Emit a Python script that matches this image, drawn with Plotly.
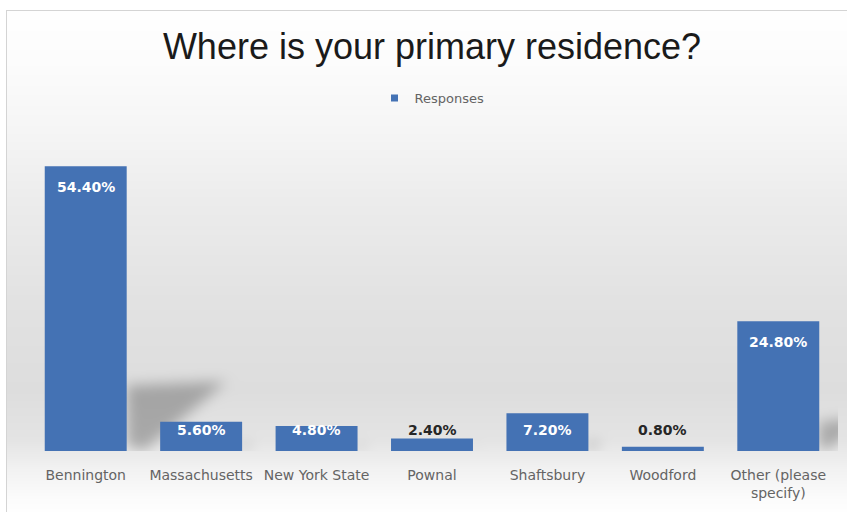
import base64
import struct
import zlib

import numpy as np
import plotly.graph_objects as go

# ---- data -------------------------------------------------------------
categories = [
    "Bennington",
    "Massachusetts",
    "New York State",
    "Pownal",
    "Shaftsbury",
    "Woodford",
    "Other (please<br>specify)",
]
responses = [54.4, 5.6, 4.8, 2.4, 7.2, 0.8, 24.8]
series_name = "Responses"
chart_title = "Where is your primary residence?"

# ---- geometry / style ---------------------------------------------------
W, H = 847, 512
M_L, M_R, M_T, M_B = 28, 11, 137, 61
Y_MAX = 60
BAR_FRAC = 0.71
BAR_COLOR = "#4472b4"
LABEL_DROP = 21          # px from bar top to label centre
TEXT_GRAY = "#646464"

plot_w = W - M_L - M_R
plot_h = H - M_T - M_B
px_per_unit = plot_h / Y_MAX
slot = plot_w / len(categories)
base_y = M_T + plot_h


# ---- background: soft vertical gradient, frame and cast shadows ----------
def gray_profile():
    ys = [0, 60, 130, 200, 300, 390, 440, 470, 500, 512]
    gs = [255, 252, 245, 236, 226, 221, 228, 242, 252, 254]
    return np.interp(np.arange(H), ys, gs)


def polygon_mask(pts):
    yy, xx = np.mgrid[0:H, 0:W].astype(float) + 0.5
    inside = np.zeros((H, W), bool)
    n = len(pts)
    for i in range(n):
        x1, y1 = pts[i]
        x2, y2 = pts[(i + 1) % n]
        cond = (y1 > yy) != (y2 > yy)
        xint = (x2 - x1) * (yy - y1) / (y2 - y1 + 1e-12) + x1
        inside ^= cond & (xx < xint)
    return inside.astype(float)


def box_blur(a, r):
    k = 2 * r + 1
    for axis in (0, 1):
        pad = [(0, 0), (0, 0)]
        pad[axis] = (r + 1, r)
        p = np.pad(a, pad, mode="edge")
        c = np.cumsum(p, axis=axis)
        if axis == 0:
            a = (c[k:] - c[:-k]) / k
        else:
            a = (c[:, k:] - c[:, :-k]) / k
    return a


def shadow_layer():
    acc = np.zeros((H, W))
    for i, v in enumerate(responses):
        h = v * px_per_unit
        xr = M_L + slot * (i + 0.5) + slot * BAR_FRAC / 2
        pts = [
            (xr, base_y - 0.02 * h),
            (xr, base_y - 0.23 * h),
            (xr + 0.35 * h, base_y - 0.245 * h),
            (xr + 0.06 * h, base_y),
        ]
        acc = np.maximum(acc, polygon_mask(pts))
    for _ in range(3):
        acc = box_blur(acc, 6)
    # shadows live on the floor of the plot area only
    acc[int(base_y):, :] = 0
    acc[:, int(M_L + plot_w + 2):] = 0
    return acc


bg = np.tile(gray_profile()[:, None], (1, W))
bg *= 1 - 0.26 * shadow_layer()
bg[:10, :] = 255
bg[:, :6] = 255
bg[10, 6:] = 212
bg[10:, 6] = 212
bg = np.clip(np.round(bg), 0, 255).astype(np.uint8)


def png_data_uri(gray):
    h, w = gray.shape
    raw = b"".join(b"\x00" + gray[r].tobytes() for r in range(h))

    def chunk(tag, data):
        return (struct.pack(">I", len(data)) + tag + data
                + struct.pack(">I", zlib.crc32(tag + data) & 0xFFFFFFFF))

    png = (b"\x89PNG\r\n\x1a\n"
           + chunk(b"IHDR", struct.pack(">IIBBBBB", w, h, 8, 0, 0, 0, 0))
           + chunk(b"IDAT", zlib.compress(raw, 9))
           + chunk(b"IEND", b""))
    return "data:image/png;base64," + base64.b64encode(png).decode()


# ---- figure --------------------------------------------------------------
fig = go.Figure()
fig.add_trace(go.Bar(
    x=categories,
    y=responses,
    width=BAR_FRAC,
    marker=dict(color=BAR_COLOR, line=dict(width=0)),
    showlegend=False,
    hovertemplate="%{x}: %{y:.2f}%<extra></extra>",
))
# legend entry with a small square swatch
fig.add_trace(go.Scatter(
    x=[None], y=[None], mode="markers", name=series_name,
    marker=dict(symbol="square", size=7, color=BAR_COLOR),
))

annotations = []
for cat, v in zip(categories, responses):
    bar_px = v * px_per_unit
    centre_px = max(bar_px - LABEL_DROP, LABEL_DROP)
    inside = centre_px < bar_px - 2
    annotations.append(dict(
        x=cat, y=centre_px / px_per_unit, xref="x", yref="y",
        text=f"<b>{v:.2f}%</b>", showarrow=False, yanchor="middle",
        font=dict(family="DejaVu Sans", size=14,
                  color="white" if inside else "#262626"),
    ))

fig.update_layout(
    width=W,
    height=H,
    margin=dict(l=M_L, r=M_R, t=M_T, b=M_B, pad=0),
    paper_bgcolor="white",
    plot_bgcolor="rgba(0,0,0,0)",
    title=dict(
        text=chart_title, x=0.5, xref="paper", xanchor="center",
        y=1 - 46 / H, yref="container", yanchor="middle",
        font=dict(family="Liberation Sans, Arial", size=36, color="#1a1a1a"),
    ),
    legend=dict(
        orientation="h", x=0.5, xanchor="center",
        y=1 + (M_T - 98) / plot_h, yanchor="middle",
        font=dict(family="DejaVu Sans", size=13, color=TEXT_GRAY),
        bgcolor="rgba(0,0,0,0)", itemwidth=30,
    ),
    xaxis=dict(
        showgrid=False, showline=False, zeroline=False, ticks="",
        ticklabelstandoff=14,
        tickfont=dict(family="DejaVu Sans", size=14, color=TEXT_GRAY),
        fixedrange=True,
    ),
    yaxis=dict(visible=False, range=[0, Y_MAX], fixedrange=True),
    bargap=1 - BAR_FRAC,
    annotations=annotations,
    images=[dict(
        source=png_data_uri(bg), xref="paper", yref="paper",
        x=-M_L / plot_w, y=1 + M_T / plot_h,
        sizex=W / plot_w, sizey=H / plot_h,
        xanchor="left", yanchor="top", sizing="stretch", layer="below",
    )],
    showlegend=True,
)

fig.write_html("out.html")
